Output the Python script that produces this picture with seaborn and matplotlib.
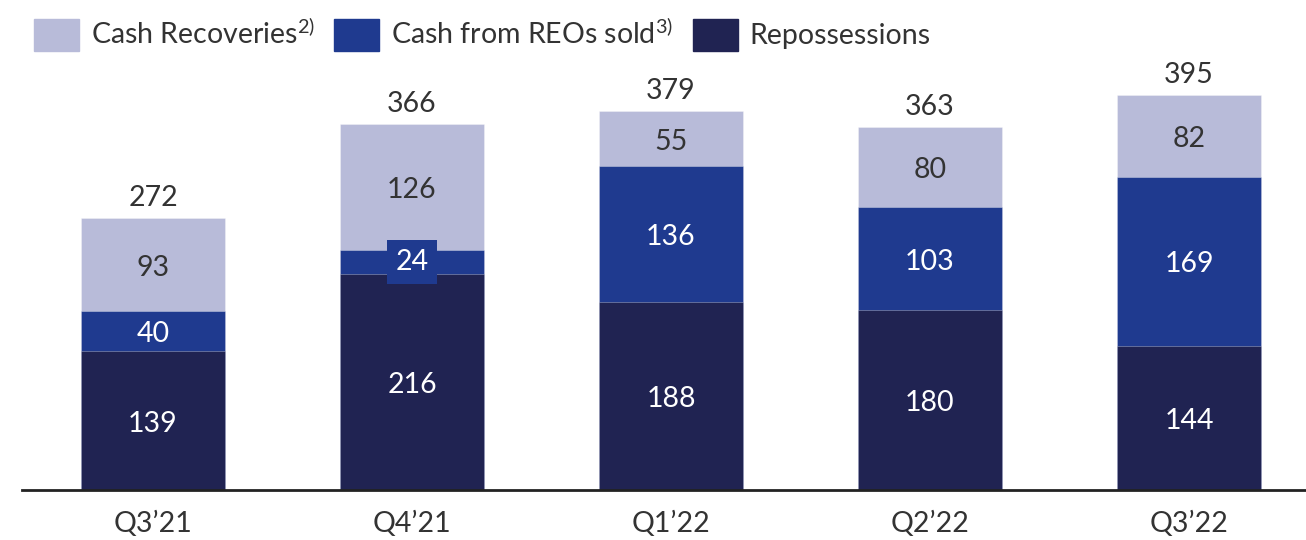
import matplotlib
matplotlib.use("Agg")
import matplotlib.pyplot as plt
import seaborn as sns
import pandas as pd
from matplotlib.patches import Patch

quarters = ["Q3\u201921", "Q4\u201921", "Q1\u201922", "Q2\u201922", "Q3\u201922"]
repossessions = [139, 216, 188, 180, 144]
reo_sold = [40, 24, 136, 103, 169]
cash_recoveries = [93, 126, 55, 80, 82]

sns.set_theme(style="white")
plt.rcParams["font.family"] = ["Lato", "DejaVu Sans"]
plt.rcParams["mathtext.fontset"] = "custom"
plt.rcParams["mathtext.rm"] = "Lato"
plt.rcParams["mathtext.it"] = "Lato"

c_light = "#B8BBD9"
c_mid = "#1F3A8F"
c_dark = "#202352"
txt = "#333333"

df = pd.DataFrame({
    "q": quarters,
    "rep": repossessions,
    "reo": reo_sold,
    "cash": cash_recoveries,
})
df["lvl2"] = df["rep"] + df["reo"]
df["total"] = df["lvl2"] + df["cash"]

fig = plt.figure(figsize=(13.06, 5.4), dpi=100)
ax = fig.add_axes([0, 50 / 540, 1, 490 / 540])

w = 0.556
ec = (1, 1, 1, 0.35)
sns.barplot(data=df, x="q", y="total", order=quarters, color=c_light, saturation=1,
            width=w, ax=ax, edgecolor=ec, linewidth=0.6)
sns.barplot(data=df, x="q", y="lvl2", order=quarters, color=c_mid, saturation=1,
            width=w, ax=ax, edgecolor=ec, linewidth=0.6)
sns.barplot(data=df, x="q", y="rep", order=quarters, color=c_dark, saturation=1,
            width=w, ax=ax, edgecolor=ec, linewidth=0.6)

ax.set_xlim(-153 / 259, (1306 - 153) / 259)
ax.set_ylim(0, 490)
fs = 20.5
d = -3
for i, r in df.iterrows():
    ax.text(i, r["rep"] / 2 + d, f"{r['rep']}", ha="center", va="center", color="white", fontsize=fs)
    if r["reo"] < 40:
        ax.text(i, r["rep"] + r["reo"] / 2, f"{r['reo']}", ha="center", va="center", color="white",
                fontsize=fs, bbox=dict(boxstyle="square,pad=0.3", fc=c_mid, ec="none"))
    else:
        ax.text(i, r["rep"] + r["reo"] / 2 + d, f"{r['reo']}", ha="center", va="center", color="white", fontsize=fs)
    ax.text(i, r["lvl2"] + r["cash"] / 2 + d, f"{r['cash']}", ha="center", va="center", color=txt, fontsize=fs)
    ax.text(i, r["total"] + 20, f"{r['total']}", ha="center", va="center", color=txt, fontsize=fs)

ax.set_xlabel("")
ax.set_ylabel("")
ax.set_yticks([])
for s in ["top", "right", "left"]:
    ax.spines[s].set_visible(False)
ax.spines["bottom"].set_color("#222222")
ax.spines["bottom"].set_linewidth(2)
ax.spines["bottom"].set_bounds((22 - 153) / 259, (1306 - 153) / 259)
ax.tick_params(axis="x", length=0, pad=15, labelsize=fs, labelcolor=txt)
ax.patch.set_alpha(0)

handles = [Patch(color=c_light), Patch(color=c_mid), Patch(color=c_dark)]
labels = ["Cash Recoveries$^{2)}$", "Cash from REOs sold$^{3)}$", "Repossessions"]
fig.legend(handles, labels, loc="upper left", bbox_to_anchor=(0.012, 1.0), ncol=3,
           frameon=False, fontsize=fs, handlelength=1.58, handleheight=1.35,
           columnspacing=0.7, handletextpad=0.4, labelcolor=txt, borderaxespad=0.25)

fig.savefig("out.png", dpi=100)
